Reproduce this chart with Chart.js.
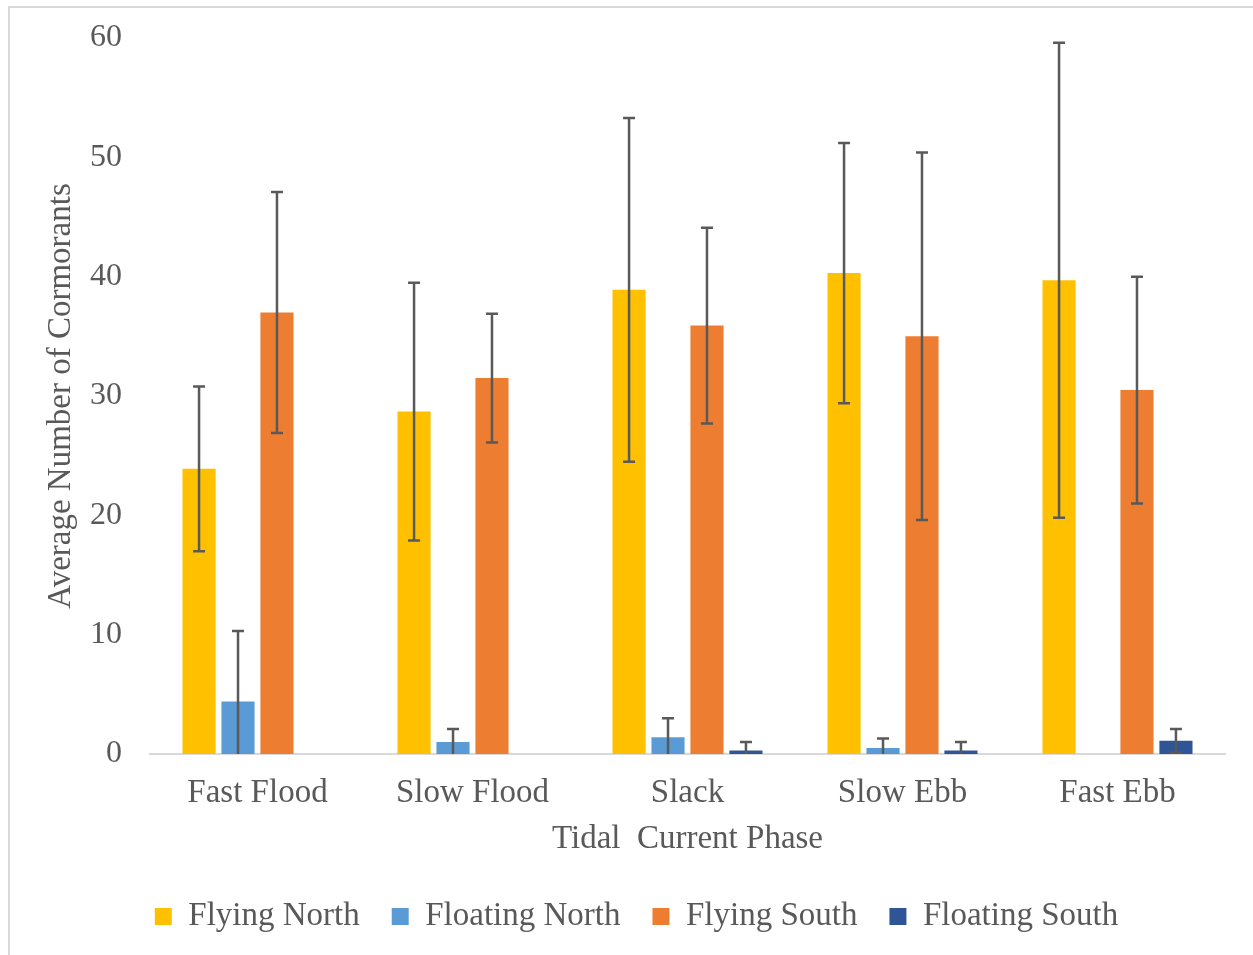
<!DOCTYPE html>
<html>
<head>
<meta charset="utf-8">
<script src="https://cdn.jsdelivr.net/npm/chart.js@4"></script>
<style>
  html, body { margin: 0; padding: 0; background: #fff; }
  #wrap { position: relative; width: 1253px; height: 955px; overflow: hidden; }
  #frame { position: absolute; left: 8px; top: 6px; width: 1300px; height: 1000px; border: 2px solid #d9d9d9; box-sizing: border-box; }
  canvas { position: absolute; left: 0; top: 0; }
</style>
</head>
<body>
<div id="wrap">
  <div id="frame"></div>
  <canvas id="chart" width="1253" height="955"></canvas>
</div>
<script>
const phases = ['Fast Flood', 'Slow Flood', 'Slack', 'Slow Ebb', 'Fast Ebb'];

const flyingNorth = [23.9, 28.7, 38.9, 40.3, 39.7];
const flyingNorthErr = [6.9, 10.8, 14.4, 10.9, 19.9];
const floatingNorth = [4.4, 1.0, 1.4, 0.5, 0];
const floatingNorthErr = [5.9, 1.1, 1.6, 0.8, 0];
const flyingSouth = [37.0, 31.5, 35.9, 35.0, 30.5];
const flyingSouthErr = [10.1, 5.4, 8.2, 15.4, 9.5];
const floatingSouth = [0, 0, 0.3, 0.3, 1.1];
const floatingSouthErr = [0, 0, 0.7, 0.7, 1.0];

const textColor = '#595959';
const fontFamily = "'Liberation Serif', 'Times New Roman', serif";

// draws the +/- error bars on top of each bar
const errorBars = {
  id: 'errorBars',
  afterDatasetsDraw(chart) {
    const ctx = chart.ctx;
    const yScale = chart.scales.y;
    ctx.save();
    ctx.strokeStyle = '#595959';
    ctx.lineWidth = 2.5;
    chart.data.datasets.forEach((ds, i) => {
      const meta = chart.getDatasetMeta(i);
      meta.data.forEach((bar, j) => {
        const err = ds.errors[j];
        if (!err) return;
        const v = ds.data[j];
        const top = yScale.getPixelForValue(v + err);
        const bottom = yScale.getPixelForValue(Math.max(0, v - err));
        ctx.beginPath();
        ctx.moveTo(bar.x, top);
        ctx.lineTo(bar.x, bottom);
        ctx.moveTo(bar.x - 6, top);
        ctx.lineTo(bar.x + 6, top);
        if (v - err > 0) {
          ctx.moveTo(bar.x - 6, bottom);
          ctx.lineTo(bar.x + 6, bottom);
        }
        ctx.stroke();
      });
    });
    ctx.restore();
  }
};

function makeSet(label, data, errors, color) {
  return {
    label: label,
    data: data,
    errors: errors,
    backgroundColor: color,
    borderWidth: 0,
    categoryPercentage: 0.725,
    barPercentage: 0.85
  };
}

new Chart(document.getElementById('chart'), {
  type: 'bar',
  data: {
    labels: phases,
    datasets: [
      makeSet('Flying North', flyingNorth, flyingNorthErr, '#FFC000'),
      makeSet('Floating North', floatingNorth, floatingNorthErr, '#5B9BD5'),
      makeSet('Flying South', flyingSouth, flyingSouthErr, '#ED7D31'),
      makeSet('Floating South', floatingSouth, floatingSouthErr, '#2F5597')
    ]
  },
  options: {
    responsive: false,
    animation: false,
    layout: { padding: { left: 28, top: 38, right: 8, bottom: 12 } },
    plugins: {
      tooltip: { enabled: false },
      legend: {
        position: 'bottom',
        labels: {
          color: textColor,
          font: { family: fontFamily, size: 33 },
          boxWidth: 17,
          boxHeight: 17,
          padding: 32
        }
      }
    },
    scales: {
      x: {
        grid: { display: false, drawTicks: false },
        border: { display: true, color: '#d9d9d9', width: 2 },
        ticks: { color: textColor, font: { family: fontFamily, size: 33 }, padding: 20 },
        title: {
          display: true,
          text: 'Tidal  Current Phase',
          color: textColor,
          font: { family: fontFamily, size: 33 },
          padding: { top: 0, bottom: 9 }
        },
        afterFit(scale) { scale.height = 114; }
      },
      y: {
        min: 0,
        max: 60,
        grid: { display: false, drawTicks: false },
        border: { display: false },
        ticks: { stepSize: 10, color: textColor, font: { family: fontFamily, size: 32 }, padding: 28 },
        title: {
          display: true,
          text: 'Average Number of Cormorants',
          color: textColor,
          font: { family: fontFamily, size: 33 },
          padding: { top: 14, bottom: 0 }
        },
        afterFit(scale) {
          scale.width = 122;
          scale.paddingTop = 0;
          scale.paddingBottom = 0;
        }
      },
      // empty spacer on the right so the plot ends where the original does
      yRight: {
        position: 'right',
        grid: { display: false, drawTicks: false },
        border: { display: false },
        ticks: { display: false },
        afterFit(scale) { scale.width = 20; }
      }
    }
  },
  plugins: [errorBars]
});
</script>
</body>
</html>
